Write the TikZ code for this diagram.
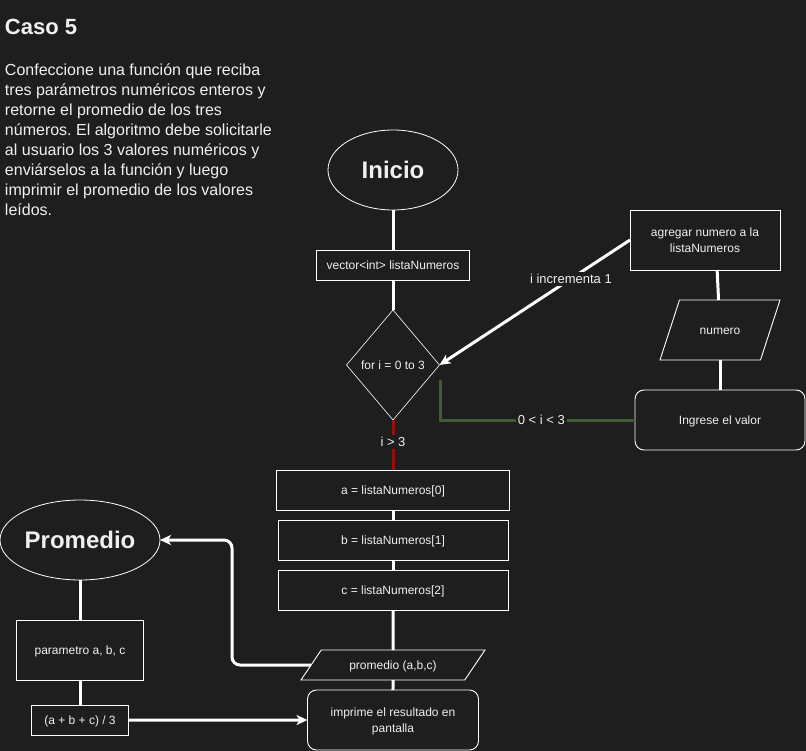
\documentclass[tikz,border=0pt]{standalone}
\usepackage{fontspec}
\setmainfont{Liberation Sans}
\usetikzlibrary{positioning, shapes.geometric, arrows.meta, calc}
\definecolor{bgdark}{RGB}{30,30,30}
\definecolor{fgtext}{RGB}{240,240,240}
\definecolor{loopred}{RGB}{180,0,0}
\definecolor{loopgreen}{RGB}{66,92,54}

\begin{document}
\frenchspacing
\begin{tikzpicture}[x=1pt,y=1pt,
        box/.style={rectangle, draw=white, line width=0.9pt, fill=bgdark, align=center, inner sep=2pt, text height=10.9pt, text depth=2.5pt},
        roundbox/.style={box, rounded corners=9pt},
        twolines/.style={text height=26.9pt, text depth=2.5pt},
        endnode/.style={ellipse, draw=white, line width=0.8pt, fill=bgdark, inner sep=0pt, font=\fontsize{24}{28}\selectfont\bfseries},
        decision/.style={diamond, draw=white, line width=0.6pt, fill=bgdark, inner sep=0pt, minimum width=93pt, minimum height=110pt},
        iobox/.style={trapezium, trapezium stretches body=true, draw=white, line width=0.9pt, fill=bgdark, inner xsep=2pt, text height=10.9pt, text depth=2.5pt},
        lbl/.style={fill=bgdark, inner sep=2pt, font=\fontsize{13}{15}\selectfont},
        link/.style={draw=white, line width=3pt},
        >={Stealth[length=11pt, width=10pt, inset=3pt]}]
        \tikzstyle{every node}=[font=\fontsize{12}{16}\selectfont, text=fgtext, outer sep=0pt]
            \fill[bgdark] (0,0) rectangle (806,-751);
            \useasboundingbox (0,0) rectangle (806,-751);

            % enunciado
            \node[anchor=north west, inner sep=0pt, font=\fontsize{22}{26}\selectfont\bfseries] (titulo) at (5,-19) {Caso 5};
            \node[anchor=north west, inner sep=0pt, align=left, font=\fontsize{16}{20}\selectfont] (enunciado) at (5,-63.5) {Confeccione una función que reciba\\
                tres parámetros numéricos enteros y\\
                retorne el promedio de los tres\\
                números. El algoritmo debe solicitarle\\
                al usuario los 3 valores numéricos y\\
                enviárselos a la función y luego\\
                imprimir el promedio de los valores\\
                leídos.};

            % columna principal
            \node[endnode, minimum width=130pt, minimum height=80pt] (inicio) at (393,-170) {Inicio};
            \node[box, minimum width=153pt, minimum height=30pt, below=40pt of inicio] (vector) {vector<int> listaNumeros};
            \node[decision, below=30pt of vector] (bucle) {for i = 0 to 3};
            \node[box, minimum width=233pt, minimum height=40pt, below=50pt of bucle] (asigA) {a = listaNumeros[0]};
            \node[box, minimum width=230pt, minimum height=40pt, below=10pt of asigA] (asigB) {b = listaNumeros[1]};
            \node[box, minimum width=230pt, minimum height=40pt, below=10pt of asigB] (asigC) {c = listaNumeros[2]};
            \node[iobox, inner ysep=8.3pt, trapezium left angle=56, trapezium right angle=124, minimum width=184pt, below=40pt of asigC] (llamada) {promedio (a,b,c)};
            \node[roundbox, twolines, minimum width=171pt, minimum height=60pt, below=10pt of llamada] (imprime) {imprime el resultado en\\pantalla};

            % lectura de valores
            \node[box, twolines, minimum width=150pt, minimum height=60pt] (agregar) at (705,-240) {agregar numero a la\\listaNumeros};
            \node[iobox, inner ysep=23.3pt, trapezium left angle=72, trapezium right angle=108, minimum width=120pt] (numero) at (720,-330) {numero};
            \node[roundbox, minimum width=170pt, minimum height=60pt] (ingrese) at (720,-420) {Ingrese el valor};
            \coordinate (retorno) at (440,-380);

            % funcion
            \node[endnode, minimum width=160pt, minimum height=80pt] (promedio) at (80,-540) {Promedio};
            \node[box, minimum width=127pt, minimum height=60pt, below=40pt of promedio] (parametro) {parametro a, b, c};
            \node[box, minimum width=97pt, minimum height=30pt, below=25pt of parametro] (formula) {(a + b + c) / 3};
            \coordinate (codo) at (232,-665);

            \draw[link] (inicio) -- (vector);
            \draw[link] (vector) -- (bucle);
            \draw[link, draw=loopred] (bucle) -- node[lbl, pos=0.44] {i > 3} (asigA);
            \draw[link] (asigA) -- (asigB);
            \draw[link] (asigB) -- (asigC);
            \draw[link] (asigC) -- (llamada);
            \draw[link] (llamada) -- (imprime);
            \draw[link, ->] (agregar.west) -- node[lbl, pos=0.31] {i incrementa 1} (bucle.east);
            \draw[link] (agregar.-68) -- (numero);
            \draw[link] (numero) -- (ingrese);
            \draw[link, draw=loopgreen] (ingrese.west) -| node[lbl, pos=0.24] {0 < i < 3} (retorno);
            \draw[link] (promedio) -- (parametro);
            \draw[link] (parametro) -- (formula);
            \draw[link, ->] (formula) -- (imprime);
            \draw[link, ->, rounded corners=8pt] (llamada.left side) -- (codo) |- (promedio.east);
        \end{tikzpicture}
\end{document}
